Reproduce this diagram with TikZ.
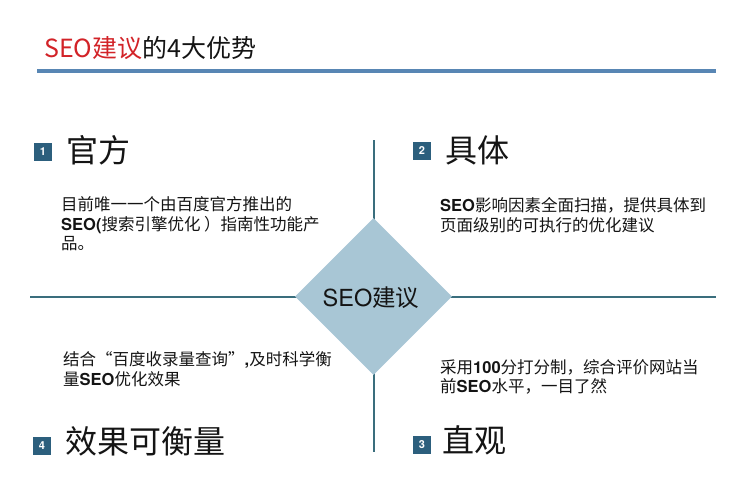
\documentclass[tikz,border=0pt]{standalone}
\usepackage{fontspec}
\setmainfont{TeX Gyre Heros}
\newfontfamily\cjk{Noto Sans CJK SC}
\usetikzlibrary{shapes.geometric}
\definecolor{titlered}{RGB}{210,35,40}
\definecolor{lineblue}{RGB}{88,134,180}
\definecolor{crossteal}{RGB}{58,110,125}
\definecolor{diamondfill}{RGB}{168,198,213}
\definecolor{boxblue}{RGB}{44,95,125}
\definecolor{ink}{RGB}{20,20,20}
\tikzset{
  numbox/.style={fill=boxblue, text=white, minimum size=18pt, inner sep=0pt,
    font=\bfseries\fontsize{11}{11}\selectfont},
  heading/.style={anchor=base west, inner sep=0pt, text=ink,
    font=\cjk\fontsize{32}{32}\selectfont},
  body/.style={anchor=base west, inner sep=0pt, text=ink,
    font=\fontsize{16.5}{20}\selectfont},
  crossline/.style={draw=crossteal, line width=2pt},
}
\begin{document}
\begin{tikzpicture}[x=1pt,y=-1pt]
\useasboundingbox (0,0) rectangle (754,483);
% title
\node[anchor=base west, inner sep=0pt, font=\cjk\fontsize{25}{25}\selectfont] (title) at (44,57)
  {\textcolor{titlered}{SEO建议}\textcolor{ink}{的4大优势}};
\coordinate (bl) at (37,71);
\coordinate (br) at (716,71);
\draw[lineblue, line width=3.5pt] (bl) -- (br);
% cross
\coordinate (hl) at (30,296.5);
\coordinate (hr) at (716,296.5);
\coordinate (vt) at (373.5,140);
\coordinate (vb) at (373.5,452);
\draw[crossline] (hl) -- (hr);
\draw[crossline] (vt) -- (vb);
% diamond
\node[diamond, fill=diamondfill, minimum width=157pt, minimum height=157pt, inner sep=0pt, aspect=1] (d) at (373.5,296.5) {};
\node[anchor=base, inner sep=0pt, text=ink, font=\fontsize{23.5}{23.5}\selectfont] (dt) at (371,306) {SEO{\cjk 建议}};
% quadrant 1
\node[numbox] (n1) at (43,152) {1};
\node[heading] (h1) at (66,162) {官方};
\node[body] (t1a) at (61,210) {\cjk 目前唯一一个由百度官方推出的};
\node[body] (t1b) at (61,230) {\bfseries SEO(\cjk\mdseries 搜索引擎优化 ）指南性功能产};
\node[body] (t1c) at (61,249) {\cjk 品。};
% quadrant 2
\node[numbox] (n2) at (422,151) {2};
\node[heading] (h2) at (445,162) {具体};
\node[body] (t2a) at (440,211) {\bfseries SEO\cjk\mdseries 影响因素全面扫描，提供具体到};
\node[body] (t2b) at (440,231) {\cjk 页面级别的可执行的优化建议};
% quadrant 4
\node[body] (t4a) at (63,365) {{\cjk 结合“百度收录量查询”}{\bfseries ,}{\cjk 及时科学衡}};
\node[body] (t4b) at (63,385) {{\cjk 量}{\bfseries SEO}{\cjk 优化效果}};
\node[numbox] (n4) at (42,446) {4};
\node[heading] (h4) at (65,453) {效果可衡量};
% quadrant 3
\node[body] (t3a) at (440,373) {{\cjk 采用}{\bfseries 100}{\cjk 分打分制，综合评价网站当}};
\node[body] (t3b) at (440,392) {{\cjk 前}{\bfseries SEO}{\cjk 水平，一目了然}};
\node[numbox] (n3) at (422,445) {3};
\node[heading] (h3) at (442,452) {直观};
\end{tikzpicture}
\end{document}
